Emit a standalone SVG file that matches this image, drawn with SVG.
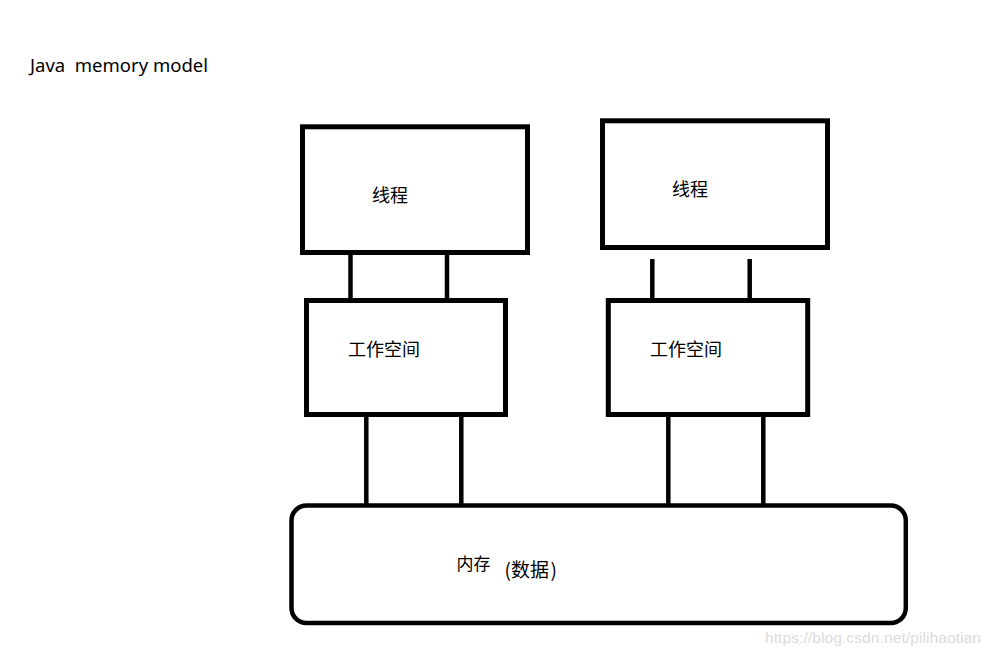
<svg xmlns="http://www.w3.org/2000/svg" width="993" height="655" viewBox="0 0 993 655">
  <style>
    .box { fill: #ffffff; stroke: #000000; stroke-width: 5; }
    .mem { fill: #ffffff; stroke: #000000; stroke-width: 4.5; }
    .conn { stroke: #000000; stroke-width: 4.5; fill: none; }
    .cjk { font-family: "Noto Sans CJK SC", "Noto Sans", sans-serif; fill: #000000; }
    .title { font-family: "Noto Sans", "Liberation Sans", sans-serif; font-size: 18.5px; fill: #000000; white-space: pre; }
    .wm { font-family: "Liberation Sans", Arial, sans-serif; font-size: 15px; fill: #dcdcdc; }
  </style>
  <rect width="993" height="655" fill="#ffffff"/>

  <text class="title" x="30" y="72" xml:space="preserve">Java  memory model</text>

  <g id="connectors">
    <line class="conn" x1="350.5" y1="254" x2="350.5" y2="300"/>
    <line class="conn" x1="447" y1="254" x2="447" y2="302"/>
    <line class="conn" x1="652.3" y1="259" x2="652.3" y2="300"/>
    <line class="conn" x1="749.7" y1="259" x2="749.7" y2="302"/>
    <line class="conn" x1="366.3" y1="415" x2="366.3" y2="506"/>
    <line class="conn" x1="461.3" y1="415" x2="461.3" y2="506"/>
    <line class="conn" x1="668.3" y1="415" x2="668.3" y2="506"/>
    <line class="conn" x1="763.3" y1="415" x2="763.3" y2="506"/>
  </g>

  <g id="thread1">
    <rect class="box" x="302.5" y="126.8" width="225" height="125.7"/>
    <text class="cjk" x="372" y="202" font-size="18">线程</text>
  </g>

  <g id="thread2">
    <rect class="box" x="602.5" y="120.8" width="225" height="126.7"/>
    <text class="cjk" x="672" y="196" font-size="18">线程</text>
  </g>

  <g id="work1">
    <rect class="box" x="306.5" y="300.5" width="199" height="114"/>
    <text class="cjk" x="348" y="355.5" font-size="18">工作空间</text>
  </g>

  <g id="work2">
    <rect class="box" x="608.3" y="300.5" width="199.4" height="114"/>
    <text class="cjk" x="650" y="355.5" font-size="18">工作空间</text>
  </g>

  <g id="memory">
    <rect class="mem" x="291.5" y="505.5" width="614.3" height="117.5" rx="15" ry="15"/>
    <text class="cjk" x="456.5" y="570" font-size="17">内存</text>
    <text class="cjk" x="504.5" y="577" font-size="19">(数据<tspan dx="1.5">)</tspan></text>
  </g>

  <text class="wm" x="765" y="643" textLength="216" lengthAdjust="spacingAndGlyphs">https://blog.csdn.net/pilihaotian</text>
</svg>
